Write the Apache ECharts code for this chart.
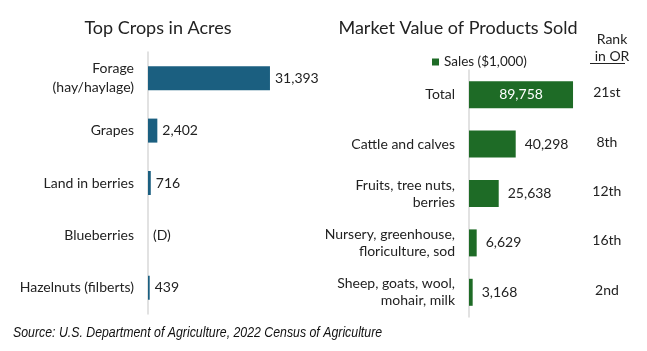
<!DOCTYPE html>
<html><head><meta charset="utf-8">
<script src="https://cdn.jsdelivr.net/npm/echarts@6/dist/echarts.min.js"></script>
<style>html,body{margin:0;padding:0;background:#fff}#c{width:647px;height:351px}</style>
</head><body><div id="c"></div>
<script>
const cropCategories = ['Forage\n(hay/haylage)', 'Grapes', 'Land in berries', 'Blueberries', 'Hazelnuts (filberts)'];
const cropAcres = [31393, 2402, 716, 0, 439];
const cropLabels = ['31,393', '2,402', '716', '(D)', '439'];
const productCategories = ['Total', 'Cattle and calves', 'Fruits, tree nuts,\nberries', 'Nursery, greenhouse,\nfloriculture, sod', 'Sheep, goats, wool,\nmohair, milk'];
const productSales = [89758, 40298, 25638, 6629, 3168];
const ranksInOR = ['21st', '8th', '12th', '16th', '2nd'];

const FONT = 'Lato';
const BLUE = '#1b5f80';
const GREEN = '#1e6b26';
const chart = echarts.init(document.getElementById('c'));
chart.setOption({
  animation: false,
  textStyle: {fontFamily: FONT, color: '#222'},
  title: [
    {text: 'Top Crops in Acres', left: 153, top: 14, textAlign: 'center',
     textStyle: {fontFamily: FONT, fontSize: 18, fontWeight: 'normal', color: '#222'}},
    {text: 'Market Value of Products Sold', left: 453, top: 14, textAlign: 'center',
     textStyle: {fontFamily: FONT, fontSize: 18, fontWeight: 'normal', color: '#222'}},
    {text: 'Rank\nin OR', left: 607, top: 26, textAlign: 'center',
     textStyle: {fontFamily: FONT, fontSize: 14, fontWeight: 'normal', color: '#222', lineHeight: 17}}
  ],
  graphic: [
    {type: 'line', shape: {x1: 590, y1: 63.5, x2: 625, y2: 63.5}, style: {stroke: '#222', lineWidth: 1}},
    {type: 'text', x: 13, y: 333, scaleX: 0.88,
     style: {text: 'Source: U.S. Department of Agriculture, 2022 Census of Agriculture',
       font: 'italic 14px "Liberation Sans", Arial, sans-serif', fill: '#111', verticalAlign: 'middle'}}
  ],
  legend: {
    data: ['Sales ($1,000)'], left: 427, top: 50, icon: 'rect', itemWidth: 7, itemHeight: 7, itemGap: 4,
    textStyle: {fontFamily: FONT, fontSize: 13.5, color: '#222'}
  },
  grid: [
    {left: 148, top: 52, width: 155.4, height: 262, containLabel: false},
    {left: 469, top: 70, width: 115.9, height: 247, containLabel: false}
  ],
  xAxis: [
    {gridIndex: 0, type: 'value', min: 0, max: 40000, show: false},
    {gridIndex: 1, type: 'value', min: 0, max: 100000, show: false}
  ],
  yAxis: [
    {gridIndex: 0, type: 'category', data: cropCategories, inverse: true,
     axisLine: {show: true, lineStyle: {color: '#d9d9d9', width: 1.5}}, axisTick: {show: false},
     axisLabel: {margin: 14, fontFamily: FONT, fontSize: 14, color: '#222', lineHeight: 19, align: 'right'}},
    {gridIndex: 1, type: 'category', data: productCategories, inverse: true,
     axisLine: {show: true, lineStyle: {color: '#d9d9d9', width: 1.5}}, axisTick: {show: false},
     axisLabel: {margin: 14, fontFamily: FONT, fontSize: 14, color: '#222', lineHeight: 17, align: 'right'}},
    {gridIndex: 1, type: 'category', data: ranksInOR, inverse: true, position: 'right',
     axisLine: {show: false}, axisTick: {show: false},
     axisLabel: {margin: 22, fontFamily: FONT, fontSize: 14, color: '#222', align: 'center', verticalAlign: 'bottom', padding: [0,0,-5,0]}}
  ],
  series: [
    {type: 'bar', xAxisIndex: 0, yAxisIndex: 0, data: cropAcres, barWidth: 24,
     itemStyle: {color: BLUE},
     label: {show: true, position: 'right', distance: 5, fontFamily: FONT, fontSize: 14, color: '#222',
       formatter: p => cropLabels[p.dataIndex]}},
    {type: 'bar', name: 'Sales ($1,000)', xAxisIndex: 1, yAxisIndex: 1, data: productSales.map((v, i) => i === 0 ? {
        value: v, label: {position: 'inside', color: '#fff', distance: 0}} : v), barWidth: 27,
     itemStyle: {color: GREEN},
     label: {show: true, position: 'right', distance: 9, fontFamily: FONT, fontSize: 14, color: '#222',
       formatter: p => p.value.toLocaleString('en-US')}}
  ]
});
</script></body></html>
